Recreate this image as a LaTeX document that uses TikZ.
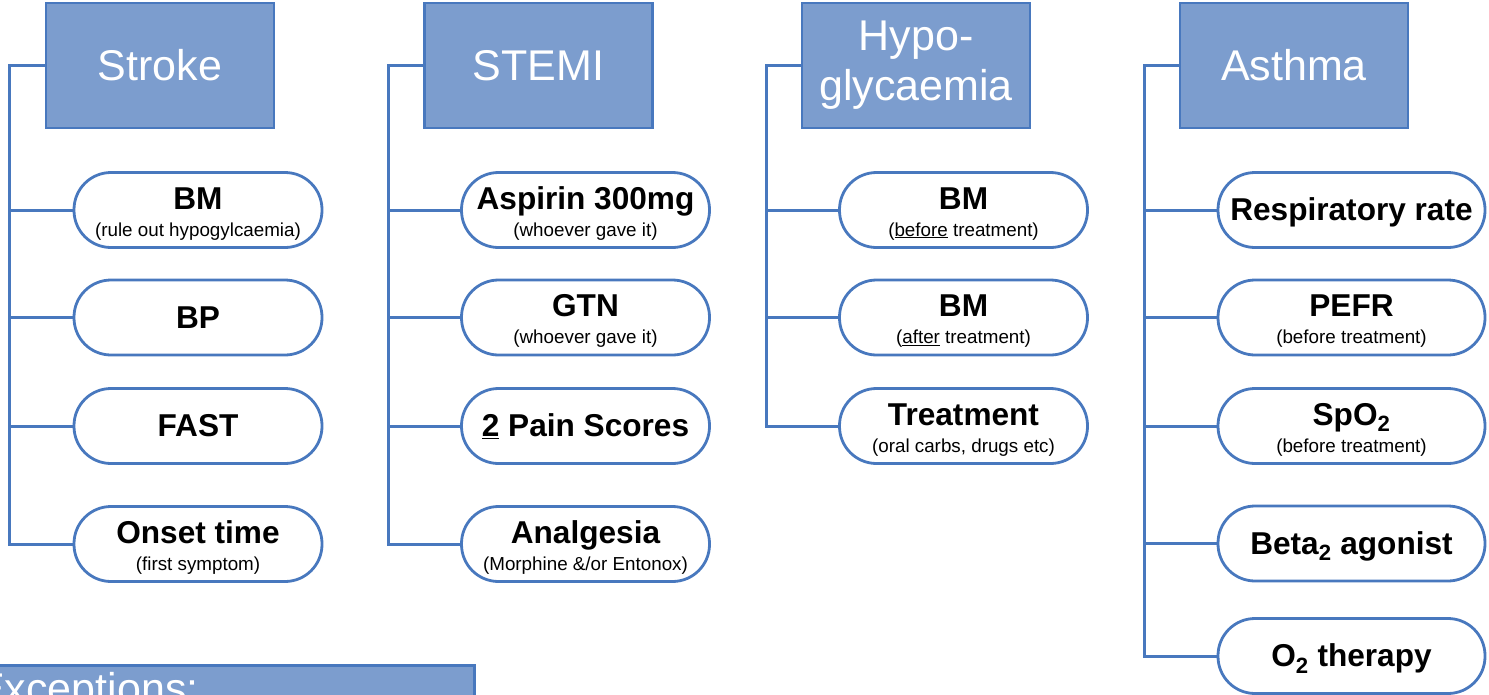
\documentclass[tikz,border=0pt]{standalone}
\usepackage{fontspec}
\setmainfont{Liberation Sans}
\definecolor{hdrfill}{RGB}{124,157,206}
\definecolor{hdrline}{RGB}{72,120,190}
\newcommand{\hfnt}{\fontsize{43}{50}\selectfont}
\newcommand{\bfnt}{\fontsize{31.6}{36}\selectfont\bfseries}
\newcommand{\sfnt}{\fontsize{18.8}{22}\selectfont}
\tikzset{
  hdr/.style={draw=hdrline, fill=hdrfill, line width=2.8pt, minimum width=228pt,
    minimum height=125pt, inner sep=0pt, font=\hfnt, text=white, align=center},
  pill/.style={draw=hdrline, fill=white, line width=2.8pt, rounded corners=37pt,
    minimum width=248pt, minimum height=75pt, inner sep=0pt},
  wpill/.style={pill, minimum width=267pt},
  link/.style={draw=hdrline, line width=3pt},
  big/.style={anchor=base, inner sep=0pt, font=\bfnt},
  small/.style={anchor=base, inner sep=0pt, font=\sfnt},
}
\begin{document}
\begin{tikzpicture}[x=1pt,y=-1pt]
\useasboundingbox (0,0) rectangle (1489,694);
% ---------- Stroke ----------
\node[hdr] (h1) at (160,65.5) {Stroke};
\node[pill] (s1) at (198,210) {};
\node[pill] (s2) at (198,317.5) {};
\node[pill] (s3) at (198,426) {};
\node[pill] (s4) at (198,544) {};
\node[big] (s1a) at ([yshift=1pt]s1.center) {BM};
\node[small] (s1b) at ([yshift=-26pt]s1.center) {(rule out hypogylcaemia)};
\node[big] (s2a) at ([yshift=-10.5pt]s2.center) {BP};
\node[big] (s3a) at ([yshift=-10.5pt]s3.center) {FAST};
\node[big] (s4a) at ([yshift=1pt]s4.center) {Onset time};
\node[small] (s4b) at ([yshift=-26pt]s4.center) {(first symptom)};
\coordinate (sp1) at (9,544);
\draw[link] (h1.west) -| (sp1) -- (s4.west);
\foreach \n in {s1,s2,s3} \draw[link] (\n.west) -- (\n.west -| sp1);
% ---------- STEMI ----------
\node[hdr] (h2) at (538.5,65.5) {STEMI};
\node[pill] (t1) at (585.5,210) {};
\node[pill] (t2) at (585.5,317.5) {};
\node[pill] (t3) at (585.5,426) {};
\node[pill] (t4) at (585.5,544) {};
\node[big] (t1a) at ([yshift=1pt]t1.center) {Aspirin 300mg};
\node[small] (t1b) at ([yshift=-26pt]t1.center) {(whoever gave it)};
\node[big] (t2a) at ([yshift=1pt]t2.center) {GTN};
\node[small] (t2b) at ([yshift=-26pt]t2.center) {(whoever gave it)};
\node[big] (t3a) at ([yshift=-10.5pt]t3.center) {\underline{2} Pain Scores};
\node[big] (t4a) at ([yshift=1pt]t4.center) {Analgesia};
\node[small] (t4b) at ([yshift=-26pt]t4.center) {(Morphine \&/or Entonox)};
\coordinate (sp2) at (388,544);
\draw[link] (h2.west) -| (sp2) -- (t4.west);
\foreach \n in {t1,t2,t3} \draw[link] (\n.west) -- (\n.west -| sp2);
% ---------- Hypoglycaemia ----------
\node[hdr] (h3) at (916,65.5) {Hypo-\\glycaemia};
\node[pill] (g1) at (963.5,210) {};
\node[pill] (g2) at (963.5,317.5) {};
\node[pill] (g3) at (963.5,426) {};
\node[big] (g1a) at ([yshift=1pt]g1.center) {BM};
\node[small] (g1b) at ([yshift=-26pt]g1.center) {(\underline{before} treatment)};
\node[big] (g2a) at ([yshift=1pt]g2.center) {BM};
\node[small] (g2b) at ([yshift=-26pt]g2.center) {(\underline{after} treatment)};
\node[big] (g3a) at ([yshift=1pt]g3.center) {Treatment};
\node[small] (g3b) at ([yshift=-26pt]g3.center) {(oral carbs, drugs etc)};
\coordinate (sp3) at (766,426);
\draw[link] (h3.west) -| (sp3) -- (g3.west);
\foreach \n in {g1,g2} \draw[link] (\n.west) -- (\n.west -| sp3);
% ---------- Asthma ----------
\node[hdr] (h4) at (1294,65.5) {Asthma};
\node[wpill] (a1) at (1351.5,210) {};
\node[wpill] (a2) at (1351.5,317.5) {};
\node[wpill] (a3) at (1351.5,426) {};
\node[wpill] (a4) at (1351.5,543.5) {};
\node[wpill] (a5) at (1351.5,656) {};
\node[big] (a1a) at ([yshift=-10.5pt]a1.center) {Respiratory rate};
\node[big] (a2a) at ([yshift=1pt]a2.center) {PEFR};
\node[small] (a2b) at ([yshift=-26pt]a2.center) {(before treatment)};
\node[big] (a3a) at ([yshift=1pt]a3.center) {SpO\textsubscript{2}};
\node[small] (a3b) at ([yshift=-26pt]a3.center) {(before treatment)};
\node[big] (a4a) at ([yshift=-10.5pt]a4.center) {Beta\textsubscript{2} agonist};
\node[big] (a5a) at ([yshift=-10.5pt]a5.center) {O\textsubscript{2} therapy};
\coordinate (sp4) at (1144,656);
\draw[link] (h4.west) -| (sp4) -- (a5.west);
\foreach \n in {a1,a2,a3,a4} \draw[link] (\n.west) -- (\n.west -| sp4);
% ---------- Exceptions ----------
\node[draw=hdrline, fill=hdrfill, line width=2.8pt, anchor=north west,
  minimum width=476pt, minimum height=80pt, inner sep=0pt] (ex) at (-3,664) {};
\node[anchor=base west, inner sep=0pt, font=\hfnt, text=white] (ext) at (-24,703) {Exceptions:};
\end{tikzpicture}
\end{document}
